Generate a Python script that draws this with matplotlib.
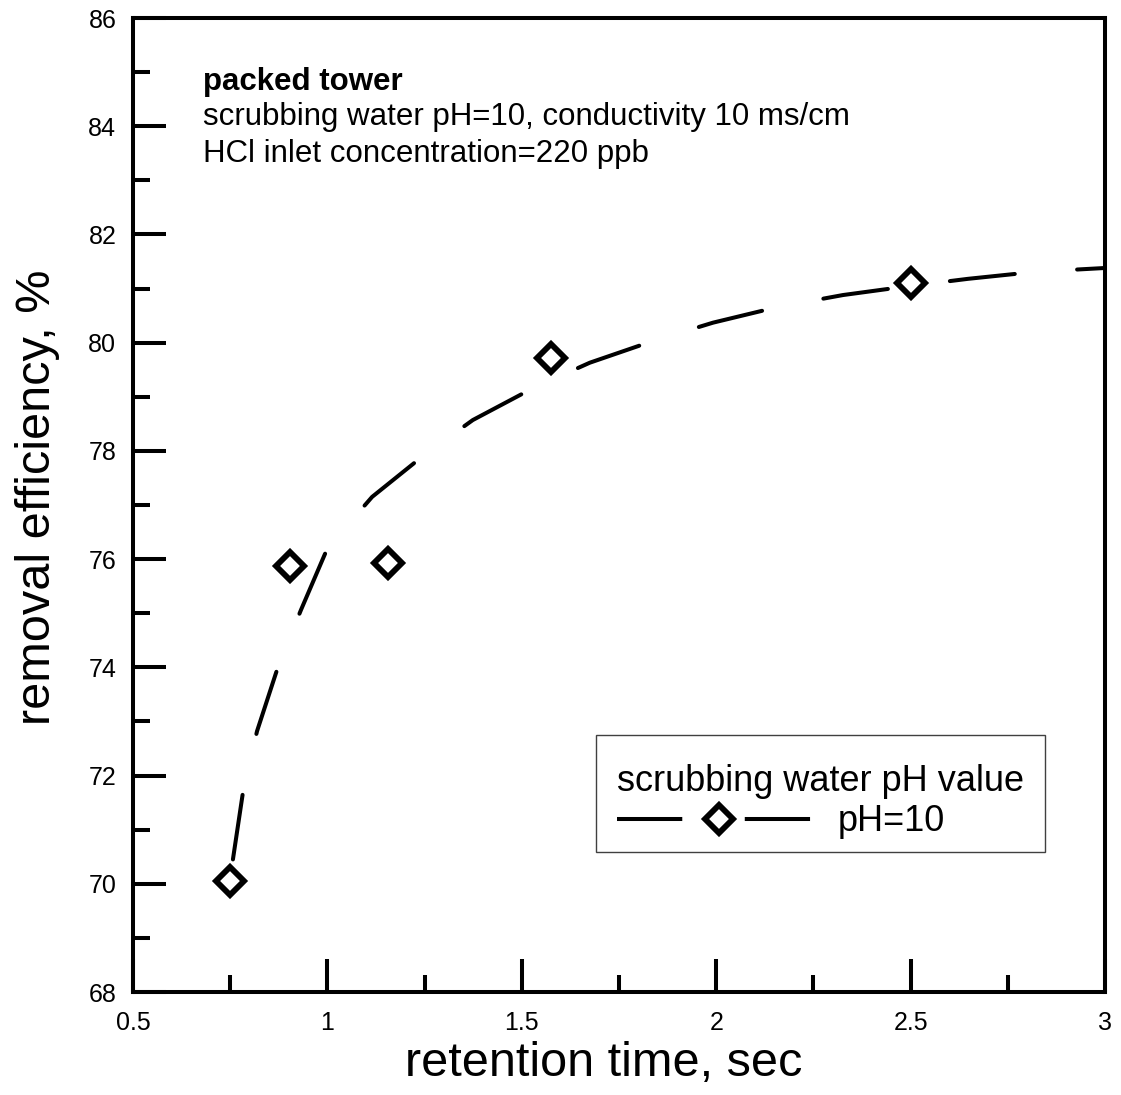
import matplotlib
matplotlib.use("Agg")
import matplotlib.pyplot as plt
from matplotlib.patches import Rectangle

plt.rcParams['font.family'] = ['Liberation Sans', 'DejaVu Sans']
plt.rcParams['lines.scale_dashes'] = False

# measured points
ret_time = [0.75, 0.905, 1.155, 1.575, 2.5]
removal = [70.05, 75.87, 75.92, 79.72, 81.1]

# fitted curve
fit_x = [0.757, 0.783, 0.819, 0.873, 0.932, 1.0, 1.115, 1.25, 1.374, 1.529,
         1.675, 1.837, 1.992, 2.159, 2.326, 2.48, 2.648, 2.822, 3.0]
fit_y = [70.45, 71.70, 72.82, 74.01, 75.06, 76.2, 77.15, 77.93, 78.57, 79.16,
         79.63, 80.03, 80.37, 80.66, 80.88, 81.03, 81.18, 81.31, 81.38]

notes = ["packed tower",
         "scrubbing water pH=10, conductivity 10 ms/cm",
         "HCl inlet concentration=220 ppb"]

fig = plt.figure(figsize=(11.21, 10.95), dpi=100)
ax = fig.add_axes([133/1121, 103/1095, 972/1121, 974/1095])

ax.plot(fit_x, fit_y, color='black', lw=2.9, linestyle=(0, (47, 45)),
        dash_capstyle='round', zorder=2)
ax.plot(ret_time, removal, linestyle='none', marker='D', ms=14.5,
        mfc='white', mec='black', mew=4.2, zorder=3)

# legend proxy: dashed line with marker
h, = ax.plot([], [], color='black', lw=2.9, linestyle=(0, (47, 45)),
             marker='D', ms=14.5, mfc='white', mec='black', mew=4.2)

ax.set_xlim(0.5, 3)
ax.set_ylim(68, 86)
ax.set_xticks([0.5, 1, 1.5, 2, 2.5, 3])
ax.set_xticklabels(['0.5', '1', '1.5', '2', '2.5', '3'])
ax.set_xticks([0.75, 1.25, 1.75, 2.25, 2.75], minor=True)
ax.set_yticks(range(68, 87, 2))
ax.set_yticks(range(69, 86, 2), minor=True)

ax.tick_params(which='both', direction='in', width=2.9, top=False, right=False,
               labelsize=18)
ax.tick_params(which='major', length=24)
ax.tick_params(which='minor', length=12)
ax.tick_params(axis='x', which='major', pad=14)
ax.tick_params(axis='y', which='major', pad=12)
for s in ax.spines.values():
    s.set_linewidth(2.9)

ax.set_xlabel('retention time, sec', fontsize=35, va='center')
ax.xaxis.set_label_coords(0.4846, -0.073)
ax.set_ylabel('removal efficiency, %', fontsize=35, va='center')
ax.yaxis.set_label_coords(-0.098, 0.508)

ax.text(0.072, 0.926, notes[0], transform=ax.transAxes, fontsize=22.5,
        fontweight='bold', va='baseline')
ax.text(0.072, 0.890, notes[1], transform=ax.transAxes, fontsize=22.5,
        va='baseline')
ax.text(0.072, 0.852, notes[2], transform=ax.transAxes, fontsize=22.5,
        va='baseline')

# legend box drawn separately so the contents can sit a bit lower
ax.add_patch(Rectangle((0.4763, 0.1437), 0.4617, 0.1202, transform=ax.transAxes,
                       facecolor='white', edgecolor='0.25', lw=1, zorder=4))
leg = ax.legend([h], ['pH=10'], title='scrubbing water pH value',
                loc='upper right', bbox_to_anchor=(0.938, 0.2558),
                borderaxespad=0, fontsize=26, title_fontsize=26,
                handlelength=5.65, handletextpad=0.47, borderpad=0.58,
                labelspacing=0.15, numpoints=1, frameon=False)
leg.set_zorder(5)
leg._legend_box.align = 'left'

fig.savefig('out.png', dpi=100)
